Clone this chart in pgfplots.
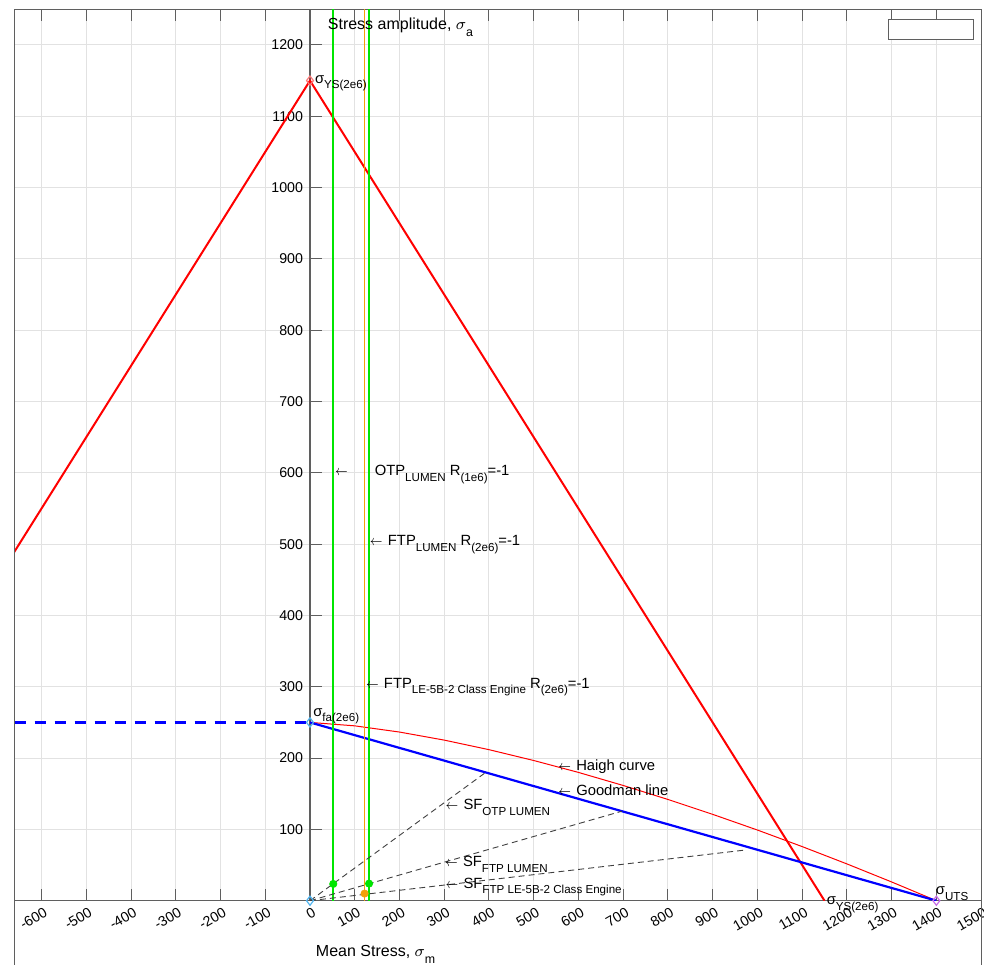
\documentclass[border=0pt]{standalone}
\usepackage{fontspec}
\setmainfont{Liberation Sans}
\usepackage{graphicx}
\usepackage{pgfplots}
\pgfplotsset{compat=1.18}

\definecolor{ysred}{RGB}{255,0,0}
\definecolor{gmblue}{RGB}{0,0,255}
\definecolor{lgreen}{RGB}{0,230,0}
\definecolor{lorange}{RGB}{242,160,10}
\definecolor{framegray}{RGB}{95,95,95}
\definecolor{gridgray}{RGB}{226,226,226}
\definecolor{mkred}{RGB}{255,120,120}
\definecolor{mkblue}{RGB}{80,180,240}
\definecolor{mkpurple}{RGB}{200,110,230}

% subscript in the style of the annotations
\newcommand\sub[1]{\raisebox{-2.8pt}{\fontsize{5.8}{7}\selectfont #1}}
\newcommand\lsub[1]{\raisebox{-3.4pt}{\fontsize{6.2}{7}\selectfont #1}}
% arrow pointing back at the annotated feature
\newcommand\la{\scalebox{0.8}[1]{$\leftarrow$}\hspace{2.6pt}}

\tikzset{
  lbl/.style={font=\fontsize{7.4}{9}\selectfont, inner sep=0pt, outer sep=0pt, anchor=base west},
  ttl/.style={font=\fontsize{8}{10}\selectfont, inner sep=0pt, outer sep=0pt, anchor=base west},
}

\pgfplotstableread{
sm   sa
0    250
100  245.2
200  236.5
300  225.2
400  211.8
500  196.6
600  179.9
700  161.6
800  142.0
900  121.1
1000 99.1
1100 75.9
1200 51.6
1300 26.3
1400 0
}\haigh

\begin{document}
\begin{tikzpicture}
\begin{axis}[name=ax,
  scale only axis, width=483.2pt, height=445.7pt,
  xmin=-660, xmax=1500, ymin=0, ymax=1250,
  axis x line*=box, axis y line*=middle,
  hide obscured x ticks=false, hide obscured y ticks=false,
  xtick={-600,-500,...,1500}, ytick={100,200,...,1200},
  tick align=inside,
  major tick length=6pt,
  tick style={framegray, line width=0.5pt},
  axis line style={framegray, line width=0.6pt},
  grid=major, grid style={gridgray, line width=0.5pt},
  ticklabel style={font=\fontsize{7.1}{8.5}\selectfont},
  /pgf/number format/assume math mode=true,
  /pgf/number format/1000 sep={},
  scaled ticks=false,
  xticklabel style={inner sep=0pt, xshift=2.3pt, yshift=-5.25pt, anchor=east, rotate=30},
  yticklabel style={anchor=east, inner sep=0pt, xshift=-3.3pt},
  clip mode=individual,
]
% yield limit lines
\addplot[ysred, line width=1pt] coordinates {(-1150,0) (0,1150) (1150,0)};
% Haigh curve
\addplot[ysred, line width=0.5pt] table[x=sm, y=sa] {\haigh};
% Goodman line
\addplot[gmblue, line width=1.1pt] coordinates {(0,250) (1400,0)};
\addplot[gmblue, line width=1.1pt, dash pattern=on 5.8pt off 4.2pt] coordinates {(-660,250) (0,250)};
% fully reversed load levels
\addplot[draw=lgreen, line width=0.8pt] coordinates {(52,0) (52,1250)};
\addplot[draw=lorange, line width=0.9pt] coordinates {(122,0) (122,1250)};
\addplot[draw=lgreen, line width=0.8pt] coordinates {(132,0) (132,1250)};
% safety factor load lines
\addplot[black!75, line width=0.45pt, dash pattern=on 3pt off 2pt] coordinates {(0,0) (393,180)};
\addplot[black!75, line width=0.45pt, dash pattern=on 3pt off 2pt] coordinates {(0,0) (697,125.5)};
\addplot[black!75, line width=0.45pt, dash pattern=on 3pt off 2pt] coordinates {(0,0) (972,71)};
% operating points
\addplot[only marks, mark=*, lgreen, mark size=1.8pt] coordinates {(52,23.5) (132,24)};
\addplot[only marks, mark=*, lorange, mark size=1.8pt] coordinates {(122,10)};
\addplot[only marks, mark=diamond, mkred, mark size=2.3pt, line width=0.6pt] coordinates {(0,1150)};
\addplot[only marks, mark=diamond, mkblue, mark size=2.3pt, line width=0.6pt] coordinates {(0,250) (0,0)};
\addplot[only marks, mark=diamond, mkpurple, mark size=2.3pt, line width=0.6pt] coordinates {(1400,0)};

% annotations
\node[lbl] at (axis cs:55.9,595.6) {\la\hspace{10.9pt}OTP\sub{LUMEN} R\sub{(1e6)}=-1};
\node[lbl] at (axis cs:134.1,497.4) {\la FTP\sub{LUMEN} R\sub{(2e6)}=-1};
\node[lbl] at (axis cs:125.2,297.8) {\la FTP\sub{LE-5B-2 Class Engine} R\sub{(2e6)}=-1};
\node[lbl] at (axis cs:555,182.3) {\la Haigh curve};
\node[lbl] at (axis cs:555,147.3) {\la Goodman line};
\node[lbl] at (axis cs:303,127.2) {\la SF\sub{OTP LUMEN}};
\node[lbl] at (axis cs:302,47.7) {\la SF\sub{FTP LUMEN}};
\node[lbl] at (axis cs:303,17.4) {\la SF\sub{FTP LE-5B-2 Class Engine}};
\node[lbl] at (axis cs:11.2,1146.3) {σ\sub{YS(2e6)}};
\node[lbl] at (axis cs:7.4,259) {σ\sub{fa(2e6)}};
\node[lbl] at (axis cs:1399,8.1) {σ\sub{UTS}};
\node[lbl] at (axis cs:1155,-6) {σ\sub{YS(2e6)}};
% axis titles
\node[ttl] at (axis cs:40,1221) {Stress amplitude, $\sigma$\lsub{a}};
\node[ttl] at (axis cs:13.4,-78.5) {Mean Stress, $\sigma$\lsub{m}};
% empty legend box
\draw[framegray, fill=white, line width=0.5pt] (axis cs:1292.6,1208) rectangle (axis cs:1482.6,1236);
\end{axis}
\draw[framegray, line width=0.6pt] (ax.north west) -- ([yshift=-32pt]ax.south west);
\draw[framegray, line width=0.6pt] (ax.north east) -- ([yshift=-32pt]ax.south east);
\pgfresetboundingbox
\path[use as bounding box] ([xshift=-7.35pt, yshift=-31.65pt]ax.south west) rectangle ([xshift=1.45pt, yshift=4.65pt]ax.north east);
\end{tikzpicture}
\end{document}
